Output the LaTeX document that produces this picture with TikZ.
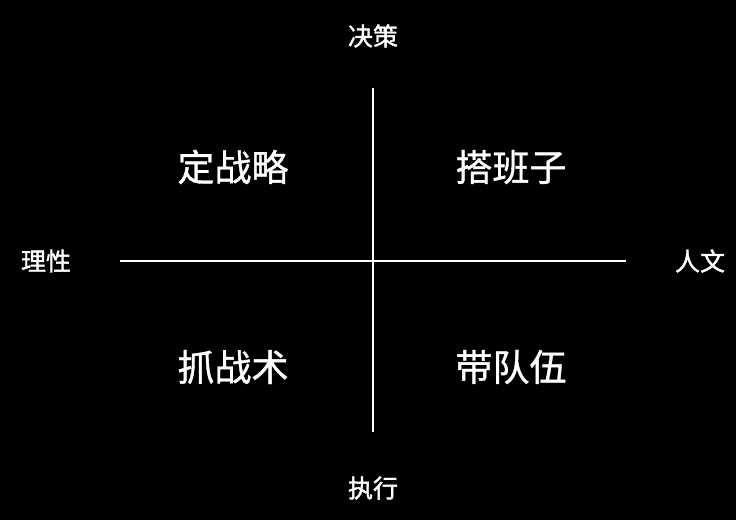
\documentclass[tikz,border=0pt]{standalone}
\usepackage{fontspec}
\newfontfamily\cjk{Noto Sans CJK SC}[FakeBold=1.0]
\newfontfamily\cjksmall{Noto Sans CJK SC}[FakeBold=1.5]
\begin{document}
\begin{tikzpicture}[x=1pt,y=-1pt,
  big/.style={text=white,font=\cjk\fontsize{37}{42}\selectfont,inner sep=0pt},
  small/.style={text=white,font=\cjksmall\fontsize{25}{30}\selectfont,inner sep=0pt},
  axis/.style={draw=white,line width=1.3pt}]
\fill[black] (0,0) rectangle (736,520);
\useasboundingbox (0,0) rectangle (736,520);
\coordinate (top) at (373,88);
\coordinate (bot) at (373,432);
\coordinate (lft) at (120,261);
\coordinate (rgt) at (626,261);
\draw[axis] (top) -- (bot);
\draw[axis] (lft) -- (rgt);
\node[small] (jc) at (373,36) {决策};
\node[small] (zx) at (373,488) {执行};
\node[small] (lx) at (46,261) {理性};
\node[small] (rw) at (700,261) {人文};
\node[big] (q1) at (233,167) {定战略};
\node[big] (q2) at (511,167) {搭班子};
\node[big] (q3) at (233,367) {抓战术};
\node[big] (q4) at (511,367) {带队伍};
\end{tikzpicture}
\end{document}
